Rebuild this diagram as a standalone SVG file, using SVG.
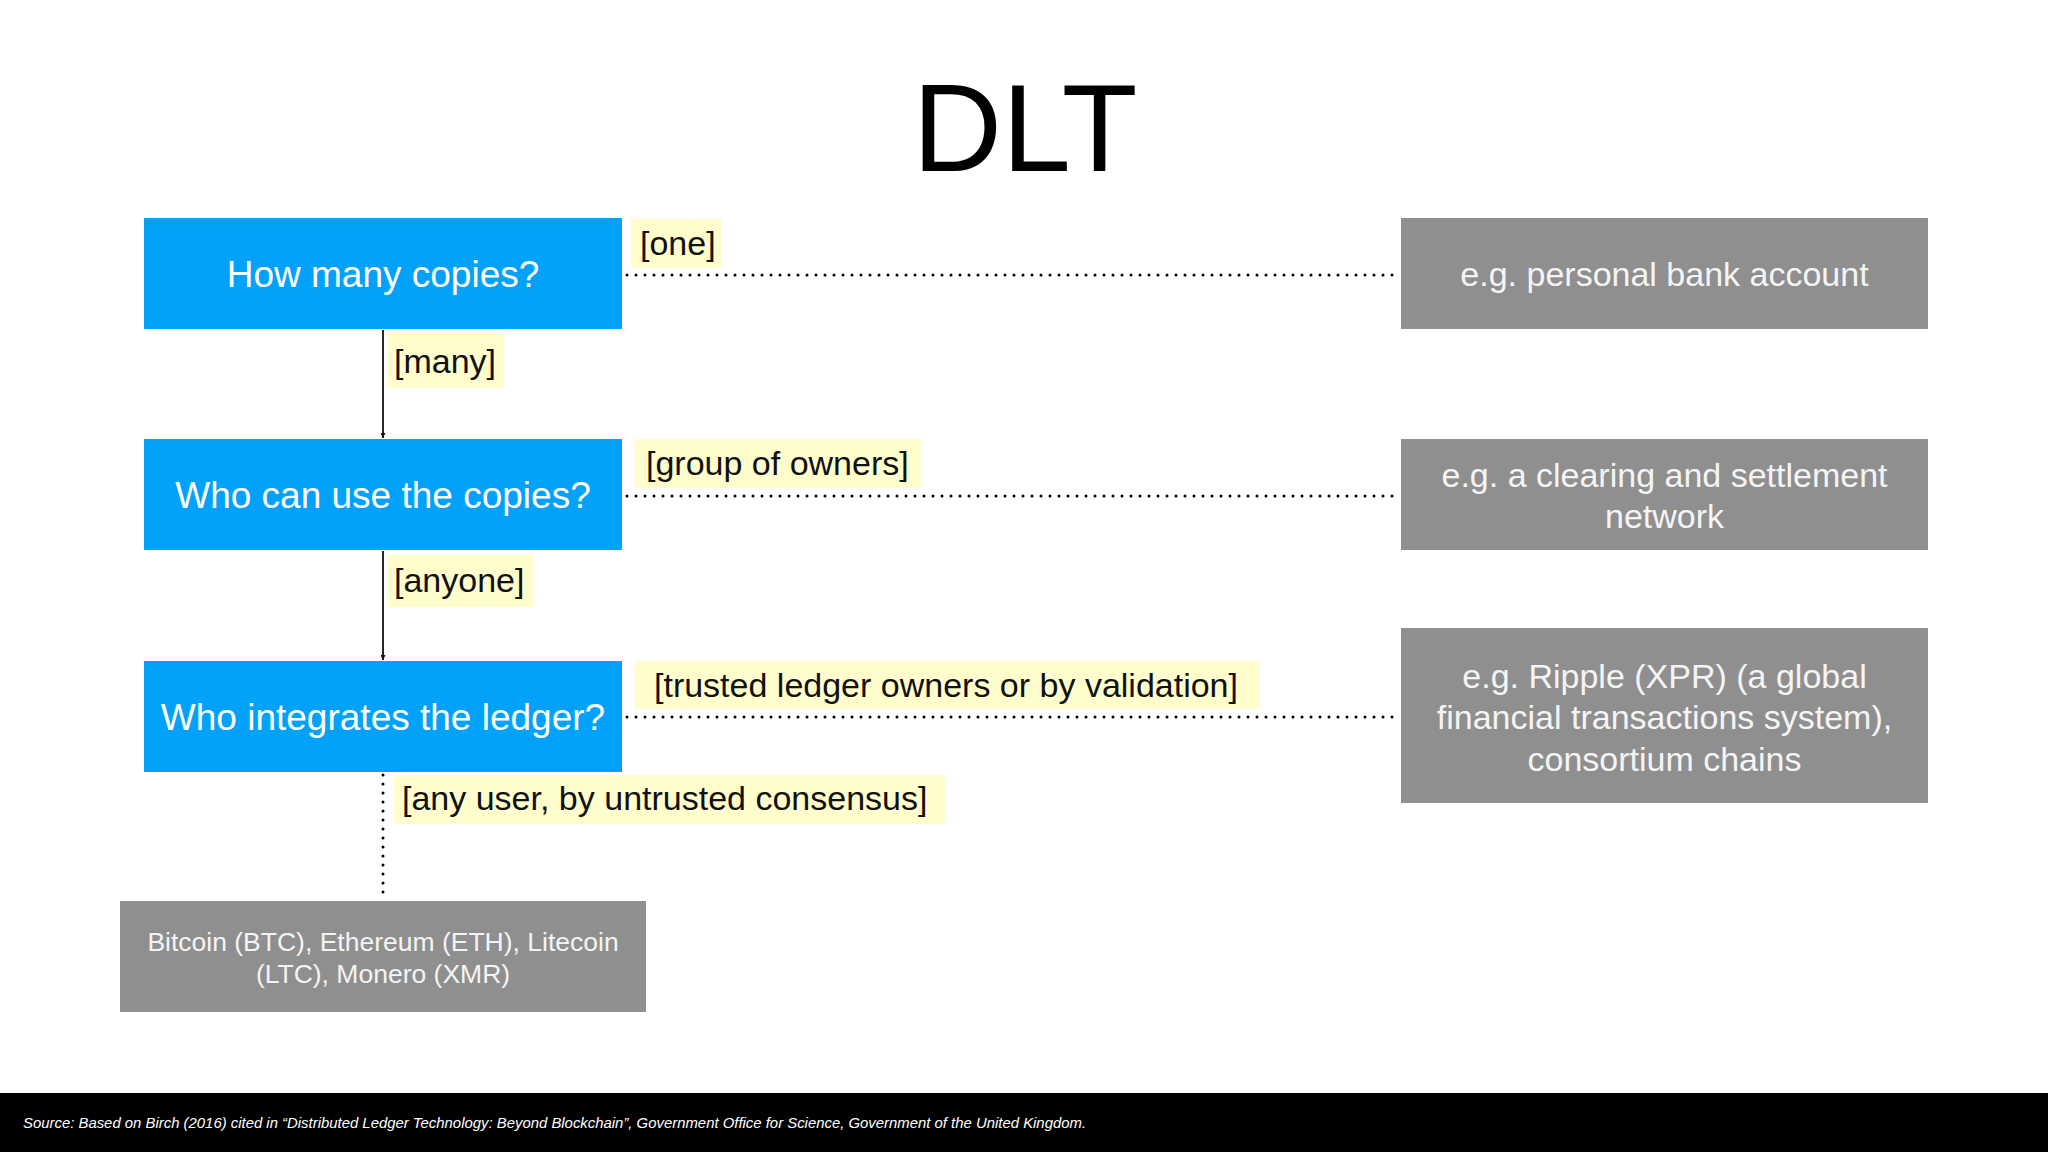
<svg xmlns="http://www.w3.org/2000/svg" width="2048" height="1152" viewBox="0 0 2048 1152">
<defs>
<style>
.q{fill:#02a2fb}
.q text,.g text{font-family:"Liberation Sans",Arial,sans-serif;text-anchor:middle}
.q text{fill:#ffffff;font-size:37px}
.g rect{fill:#8f8f8f}
.g text{fill:#f4f4f4;font-size:34px}
.lbl rect{fill:#fffdcc}
.lbl text{font-family:"Liberation Sans",Arial,sans-serif;font-size:34px;fill:#111111}
.dot{stroke:#000000;stroke-width:3;stroke-linecap:round;stroke-dasharray:0 9;fill:none}
.arr{stroke:#111111;stroke-width:1.8;fill:none;marker-end:url(#ah)}
</style>
<marker id="ah" viewBox="0 0 10 10" refX="10" refY="5" markerWidth="5" markerHeight="5" markerUnits="userSpaceOnUse" orient="auto">
<path d="M0,0 L10,5 L0,10 z" fill="#111111"/>
</marker>
</defs>
<rect x="0" y="0" width="2048" height="1152" fill="#ffffff"/>
<text x="1025" y="171" font-family="'Liberation Sans',Arial,sans-serif" font-size="124" text-anchor="middle" fill="#000000">DLT</text>

<g id="connectors">
<line class="dot" x1="627" y1="275" x2="1400" y2="275"/>
<line class="dot" x1="627" y1="496" x2="1400" y2="496"/>
<line class="dot" x1="627" y1="717" x2="1400" y2="717"/>
<line class="arr" x1="383" y1="330" x2="383" y2="438"/>
<line class="arr" x1="383" y1="551" x2="383" y2="660"/>
<line class="dot" x1="383" y1="775" x2="383" y2="901"/>
</g>

<g class="lbl" id="labels">
<g id="lbl-one"><rect x="631" y="219" width="90" height="49"/><text x="640" y="255">[one]</text></g>
<g id="lbl-many"><rect x="388" y="334" width="116" height="54"/><text x="394" y="373">[many]</text></g>
<g id="lbl-group"><rect x="635" y="439" width="287" height="49"/><text x="646" y="475">[group of owners]</text></g>
<g id="lbl-anyone"><rect x="388" y="555" width="145" height="52"/><text x="394" y="592">[anyone]</text></g>
<g id="lbl-trusted"><rect x="635" y="661" width="625" height="48"/><text x="654" y="697">[trusted ledger owners or by validation]</text></g>
<g id="lbl-anyuser"><rect x="394" y="775" width="552" height="49"/><text x="402" y="810">[any user, by untrusted consensus]</text></g>
</g>

<g id="q1" class="q"><rect x="144" y="218" width="478" height="111"/><text x="383" y="287">How many copies?</text></g>
<g id="q2" class="q"><rect x="144" y="439" width="478" height="111"/><text x="383" y="508">Who can use the copies?</text></g>
<g id="q3" class="q"><rect x="144" y="661" width="478" height="111"/><text x="383" y="730">Who integrates the ledger?</text></g>

<g id="r1" class="g"><rect x="1401" y="218" width="527" height="111"/><text x="1664.5" y="286">e.g. personal bank account</text></g>
<g id="r2" class="g"><rect x="1401" y="439" width="527" height="111"/><text x="1664.5" y="487">e.g. a clearing and settlement</text><text x="1664.5" y="528">network</text></g>
<g id="r3" class="g"><rect x="1401" y="628" width="527" height="175"/><text x="1664.5" y="688">e.g. Ripple (XPR) (a global</text><text x="1664.5" y="729">financial transactions system),</text><text x="1664.5" y="771">consortium chains</text></g>
<g id="r4" class="g"><rect x="120" y="901" width="526" height="111"/><text x="383" y="951" style="font-size:26.5px">Bitcoin (BTC), Ethereum (ETH), Litecoin</text><text x="383" y="983" style="font-size:26.5px">(LTC), Monero (XMR)</text></g>

<g id="footer">
<rect x="0" y="1093" width="2048" height="59" fill="#000000"/>
<text x="23" y="1128" font-family="'Liberation Sans',Arial,sans-serif" font-size="14.9" font-style="italic" fill="#ffffff">Source: Based on Birch (2016) cited in “Distributed Ledger Technology: Beyond Blockchain”, Government Office for Science, Government of the United Kingdom.</text>
</g>
</svg>
